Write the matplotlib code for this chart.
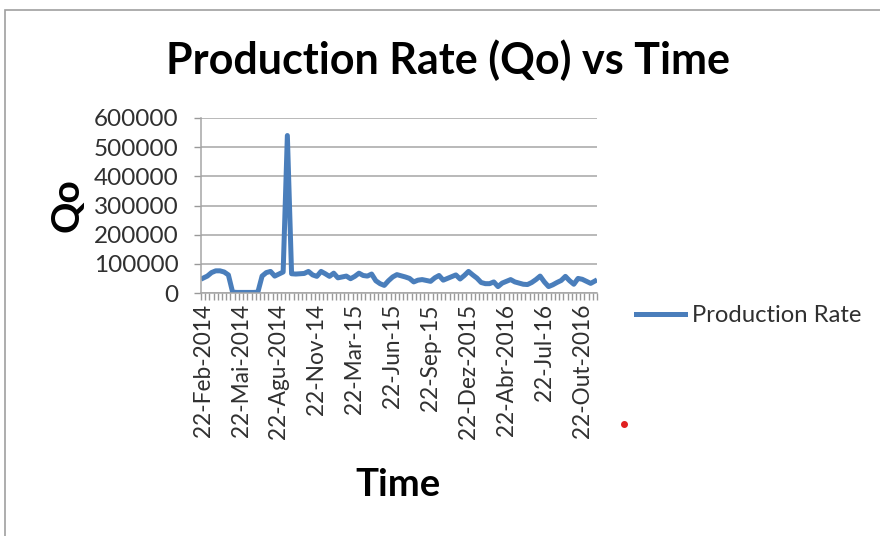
import numpy as np
import matplotlib
matplotlib.use("Agg")
import matplotlib.pyplot as plt
from matplotlib.lines import Line2D
from matplotlib.patches import Rectangle

# production rate per report date (category axis, labels every 9th point)
qo = [51000, 58000, 70000, 76000, 76000, 72000, 62000, 3000, 2000, 2000,
      2000, 2000, 2000, 3000, 58000, 70000, 74000, 58000, 65000, 72000,
      540000, 66000, 65000, 66000, 67000, 74000, 62000, 57000, 74000, 66000,
      57000, 68000, 52000, 55000, 58000, 49000, 57000, 68000, 60000, 58000,
      65000, 42000, 32000, 26000, 42000, 55000, 63000, 59000, 55000, 50000,
      38000, 44000, 46000, 43000, 40000, 52000, 60000, 44000, 50000, 56000,
      62000, 48000, 60000, 74000, 62000, 51000, 36000, 32000, 32000, 38000,
      22000, 34000, 40000, 46000, 38000, 34000, 30000, 29000, 36000, 46000,
      58000, 38000, 22000, 28000, 36000, 43000, 57000, 42000, 30000, 50000,
      47000, 40000, 33000, 41000]
date_labels = ["22-Feb-2014", "22-Mai-2014", "22-Agu-2014", "22-Nov-14",
               "22-Mar-15", "22-Jun-15", "22-Sep-15", "22-Dez-2015",
               "22-Abr-2016", "22-Jul-16", "22-Out-2016"]
label_step = 9
y_ticks = [0, 100000, 200000, 300000, 400000, 500000, 600000]

plt.rcParams['font.family'] = ['Lato', 'DejaVu Sans']
text_col = '#303030'

fig = plt.figure(figsize=(8.8, 5.36), dpi=100)
W, H = 880, 536
ax = fig.add_axes([201 / W, 1 - 293 / H, 396 / W, 175 / H])

x = np.arange(len(qo))
ax.plot(x, qo, color='#4a7ebb', linewidth=3.6, solid_joinstyle='round',
        label='Production Rate')

ax.set_xlim(-0.5, len(qo) - 0.5)
ax.set_ylim(0, 600000)
ax.set_yticks(y_ticks)
ax.set_yticklabels([str(v) for v in y_ticks], fontsize=17.5, color=text_col)

ax.set_xticks(np.arange(-0.5, len(qo), 1), minor=False)
ax.set_xticklabels([])
ax.set_xticks(x[::label_step], minor=True)
ax.set_xticklabels(date_labels, minor=True, rotation=90, fontsize=16.3,
                   color=text_col)
ax.tick_params(axis='x', which='major', length=5, color='#999999', width=1)
ax.tick_params(axis='x', which='minor', length=0, pad=8)
ax.tick_params(axis='y', length=5, color='#999999', width=1, pad=11)

ax.grid(axis='y', color='#a6a6a6', linewidth=1.1)
ax.set_axisbelow(True)
for side in ['top', 'right']:
    ax.spines[side].set_visible(False)
for side in ['left', 'bottom']:
    ax.spines[side].set_color('#a6a6a6')
    ax.spines[side].set_linewidth(1.1)

fig.text(448 / W, 1 - 60 / H, 'Production Rate (Qo) vs Time', ha='center',
         va='center', fontsize=31, fontweight='bold')
fig.text(67 / W, 1 - 205 / H, 'Qo', ha='center', va='center', rotation=90,
         fontsize=28, fontweight='bold')
fig.text(398 / W, 1 - 485 / H, 'Time', ha='center', va='center',
         fontsize=27.5, fontweight='bold')

leg = fig.legend(loc='center left', bbox_to_anchor=(636 / W, 1 - 316 / H),
                 frameon=False, fontsize=17.2, handlelength=2.05,
                 handletextpad=0.3, borderaxespad=0, borderpad=0)
for t in leg.get_texts():
    t.set_color(text_col)

# chart area border and the stray red dot
fig.patches.append(Rectangle((5 / W, -0.1), 1.2, 1.1 - 10 / H,
                             transform=fig.transFigure, fill=False,
                             edgecolor='#a0a0a0', linewidth=1.2))
fig.lines.append(Line2D([624 / W], [1 - 424 / H], transform=fig.transFigure,
                        marker='o', markersize=4, color='#e02020',
                        linestyle='none'))

fig.savefig('out.png', dpi=100)
